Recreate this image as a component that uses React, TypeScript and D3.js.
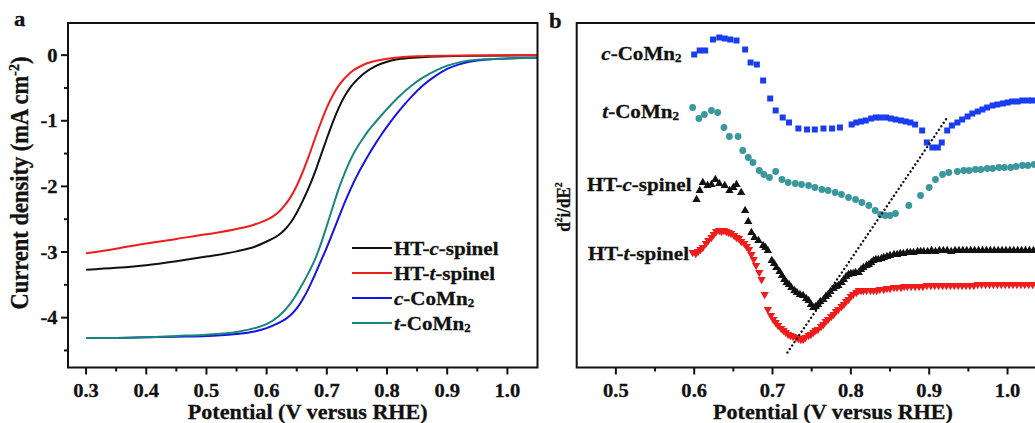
import React from 'react';
import * as d3 from 'd3';

const W = 1035;
const H = 423;
const FONT = "'Liberation Serif', 'Times New Roman', serif";
const SX = 1.08; // horizontal glyph stretch of the figure lettering

// ---- Panel a: LSV curves, potential (V vs RHE) vs current density (mA cm^-2)
const lsvHTc: [number, number][] = [
  [0.30, -3.27], [0.35, -3.24], [0.40, -3.20], [0.45, -3.14], [0.50, -3.07], [0.55, -2.99],
  [0.58, -2.92], [0.60, -2.84], [0.62, -2.74], [0.63, -2.66], [0.64, -2.55], [0.65, -2.40],
  [0.66, -2.22], [0.67, -2.02], [0.68, -1.79], [0.69, -1.53], [0.70, -1.27], [0.71, -1.02],
  [0.72, -0.80], [0.73, -0.62], [0.74, -0.48], [0.76, -0.29], [0.78, -0.17], [0.80, -0.10],
  [0.82, -0.06], [0.85, -0.035], [0.90, -0.015], [0.95, -0.008], [1.00, -0.004], [1.05, -0.002],
];
const lsvHTt: [number, number][] = [
  [0.30, -3.02], [0.35, -2.95], [0.40, -2.87], [0.45, -2.80], [0.50, -2.73], [0.55, -2.65],
  [0.58, -2.58], [0.60, -2.51], [0.61, -2.46], [0.62, -2.39], [0.63, -2.29], [0.64, -2.16],
  [0.65, -1.99], [0.66, -1.78], [0.67, -1.54], [0.68, -1.28], [0.69, -1.03], [0.70, -0.80],
  [0.71, -0.61], [0.72, -0.46], [0.74, -0.26], [0.76, -0.15], [0.78, -0.09], [0.80, -0.055],
  [0.82, -0.035], [0.85, -0.018], [0.90, -0.008], [0.95, -0.004], [1.00, -0.002], [1.05, 0],
];
const lsvCCoMn2: [number, number][] = [
  [0.30, -4.31], [0.35, -4.31], [0.40, -4.30], [0.45, -4.29], [0.50, -4.28], [0.55, -4.25],
  [0.58, -4.21], [0.60, -4.16], [0.62, -4.08], [0.63, -4.03], [0.64, -3.96], [0.65, -3.86],
  [0.66, -3.72], [0.67, -3.55], [0.68, -3.35], [0.69, -3.14], [0.70, -2.93], [0.71, -2.70],
  [0.72, -2.47], [0.73, -2.24], [0.74, -2.03], [0.75, -1.84], [0.76, -1.67], [0.77, -1.51],
  [0.78, -1.36], [0.79, -1.22], [0.80, -1.09], [0.82, -0.85], [0.84, -0.64], [0.86, -0.46],
  [0.88, -0.32], [0.90, -0.21], [0.92, -0.14], [0.95, -0.08], [1.00, -0.05], [1.05, -0.04],
];
const lsvTCoMn2: [number, number][] = [
  [0.30, -4.31], [0.35, -4.31], [0.40, -4.30], [0.45, -4.28], [0.50, -4.26], [0.55, -4.22],
  [0.58, -4.16], [0.60, -4.10], [0.62, -3.98], [0.64, -3.78], [0.65, -3.64], [0.66, -3.48],
  [0.67, -3.31], [0.68, -3.12], [0.69, -2.88], [0.70, -2.60], [0.71, -2.31], [0.72, -2.03],
  [0.73, -1.79], [0.74, -1.58], [0.75, -1.41], [0.76, -1.27], [0.77, -1.14], [0.78, -1.03],
  [0.80, -0.82], [0.82, -0.63], [0.84, -0.47], [0.86, -0.34], [0.88, -0.24], [0.90, -0.16],
  [0.92, -0.11], [0.95, -0.07], [1.00, -0.05], [1.05, -0.04],
];

const potentialTicksA = [0.3, 0.4, 0.5, 0.6, 0.7, 0.8, 0.9, 1.0];
const potentialMinorA = [0.35, 0.45, 0.55, 0.65, 0.75, 0.85, 0.95];
const currentTicks = [0, -1, -2, -3, -4];
const currentMinor = [-0.5, -1.5, -2.5, -3.5, -4.5];

// ---- Panel b: second derivative d2i/dE2 (arbitrary units) vs potential
const d2CCoMn2: [number, number][] = [
  [0.600, 313], [0.607, 317], [0.614, 317], [0.624, 328], [0.632, 330], [0.639, 329],
  [0.646, 328], [0.654, 327], [0.665, 318], [0.672, 305], [0.680, 303], [0.688, 287],
  [0.697, 269], [0.704, 257], [0.713, 250], [0.721, 245], [0.733, 239], [0.744, 238],
  [0.754, 238], [0.765, 239], [0.776, 239], [0.786, 240], [0.801, 243], [0.807, 245],
  [0.813, 246], [0.819, 247], [0.826, 249], [0.832, 250], [0.838, 250], [0.845, 250],
  [0.851, 249], [0.857, 248], [0.864, 247], [0.870, 246], [0.876, 245], [0.882, 243],
  [0.891, 237], [0.897, 225], [0.904, 220], [0.911, 220], [0.916, 225], [0.923, 237],
  [0.929, 242], [0.936, 245], [0.942, 248], [0.949, 251], [0.955, 254], [0.962, 256],
  [0.968, 258], [0.974, 260], [0.981, 262], [0.987, 263], [0.994, 264], [1.000, 265],
  [1.006, 266], [1.013, 266], [1.019, 267], [1.026, 267], [1.032, 267], [1.039, 267],
  [1.045, 267],
];
const d2TCoMn2: [number, number][] = [
  [0.598, 260], [0.606, 249], [0.613, 253], [0.622, 257], [0.630, 255], [0.638, 240],
  [0.645, 231], [0.656, 231], [0.662, 217], [0.669, 210], [0.675, 205], [0.683, 197],
  [0.689, 193], [0.696, 190], [0.704, 196], [0.712, 188], [0.720, 185], [0.729, 184],
  [0.737, 183], [0.746, 182], [0.754, 180], [0.763, 178], [0.771, 177], [0.780, 175],
  [0.788, 173], [0.797, 170], [0.806, 168], [0.814, 165], [0.823, 162], [0.831, 157],
  [0.838, 153], [0.844, 152], [0.850, 152], [0.857, 154], [0.874, 162], [0.889, 172],
  [0.900, 180], [0.908, 188], [0.917, 193], [0.925, 195], [0.936, 196], [0.944, 197],
  [0.951, 197], [0.959, 198], [0.966, 198], [0.974, 199], [0.981, 199], [0.989, 200],
  [0.996, 200], [1.004, 200], [1.011, 201], [1.019, 202], [1.026, 202], [1.034, 203],
  [1.041, 203],
];
const d2HTc: [number, number][] = [
  [0.603, 168], [0.607, 177], [0.611, 185], [0.617, 182], [0.622, 183], [0.627, 188],
  [0.632, 184], [0.639, 182], [0.645, 177], [0.650, 180], [0.654, 183], [0.660, 175],
  [0.665, 157], [0.669, 146], [0.673, 135], [0.677, 130], [0.682, 127], [0.688, 122],
  [0.691, 120], [0.694, 117], [0.699, 107], [0.702, 104], [0.705, 100], [0.709, 96],
  [0.712, 92], [0.715, 88], [0.718, 85], [0.721, 83], [0.724, 80], [0.728, 77],
  [0.731, 75], [0.735, 73], [0.739, 72], [0.743, 69], [0.746, 67], [0.749, 63],
  [0.752, 60], [0.755, 61], [0.758, 63], [0.761, 66], [0.765, 68], [0.768, 71],
  [0.771, 73], [0.774, 76], [0.778, 79], [0.781, 81], [0.784, 82], [0.788, 85],
  [0.791, 88], [0.794, 91], [0.797, 93], [0.800, 94], [0.803, 94], [0.806, 95],
  [0.810, 95], [0.813, 98], [0.816, 100], [0.820, 102], [0.823, 103], [0.826, 105],
  [0.829, 107], [0.832, 108], [0.835, 108], [0.839, 109], [0.842, 110], [0.846, 111],
  [0.850, 112], [0.855, 113], [0.859, 113], [0.863, 114], [0.867, 114], [0.872, 115],
  [0.876, 115], [0.880, 115], [0.885, 116], [0.889, 116], [0.893, 116], [0.898, 116],
  [0.903, 117], [0.908, 116], [0.913, 117], [0.918, 117], [0.923, 117], [0.928, 116],
  [0.933, 117], [0.938, 117], [0.943, 117], [0.948, 117], [0.953, 117], [0.958, 117],
  [0.963, 117], [0.968, 117], [0.973, 117], [0.978, 117], [0.983, 117], [0.988, 117],
  [0.993, 117], [0.998, 117], [1.003, 117], [1.008, 117], [1.013, 117], [1.018, 117],
  [1.023, 117], [1.028, 117], [1.033, 117], [1.038, 117], [1.043, 117], [1.048, 117],
];
const d2HTt: [number, number][] = [
  [0.598, 115], [0.602, 114], [0.605, 116], [0.608, 118], [0.611, 120], [0.615, 124],
  [0.618, 127], [0.622, 130], [0.625, 133], [0.628, 136], [0.632, 137], [0.635, 136],
  [0.638, 137], [0.641, 136], [0.644, 135], [0.647, 134], [0.651, 132], [0.654, 130],
  [0.657, 129], [0.660, 126], [0.664, 124], [0.667, 121], [0.670, 118], [0.673, 113],
  [0.676, 108], [0.679, 102], [0.683, 95], [0.686, 88], [0.690, 73], [0.694, 58],
  [0.698, 52], [0.701, 48], [0.704, 45], [0.707, 42], [0.711, 39], [0.714, 37],
  [0.717, 35], [0.720, 33], [0.723, 32], [0.726, 31], [0.730, 30], [0.733, 29],
  [0.736, 28], [0.739, 28], [0.742, 30], [0.746, 32], [0.749, 33], [0.752, 35],
  [0.755, 37], [0.758, 38], [0.762, 41], [0.765, 43], [0.768, 46], [0.771, 48],
  [0.775, 51], [0.778, 53], [0.781, 56], [0.784, 58], [0.788, 61], [0.791, 63],
  [0.794, 66], [0.797, 68], [0.800, 71], [0.803, 73], [0.807, 75], [0.810, 77],
  [0.813, 77], [0.816, 77], [0.820, 77], [0.825, 77], [0.829, 77], [0.833, 77],
  [0.837, 78], [0.842, 78], [0.846, 79], [0.850, 79], [0.855, 80], [0.859, 80],
  [0.864, 80], [0.868, 81], [0.872, 81], [0.877, 81], [0.882, 81], [0.887, 81],
  [0.892, 81], [0.897, 82], [0.902, 82], [0.907, 82], [0.912, 82], [0.917, 82],
  [0.922, 82], [0.927, 82], [0.932, 82], [0.937, 82], [0.942, 82], [0.947, 82],
  [0.952, 82], [0.957, 82], [0.962, 83], [0.967, 83], [0.972, 83], [0.977, 83],
  [0.982, 83], [0.987, 83], [0.992, 83], [0.997, 83], [1.002, 83], [1.007, 83],
  [1.012, 83], [1.017, 83], [1.022, 83], [1.027, 83], [1.032, 83], [1.037, 83],
  [1.042, 83], [1.047, 83],
];
// dotted guide through the minima
const minimaGuide: [number, number][] = [[0.719, 15], [0.923, 250]];

const potentialTicksB = [0.5, 0.6, 0.7, 0.8, 0.9, 1.0];
const potentialMinorB = [0.55, 0.65, 0.75, 0.85, 0.95];

// ---- layout
const A = { left: 68, right: 537.5, top: 23, bottom: 367.5 };
const B = { left: 576.7, right: 1046.7, top: 23, bottom: 367.5 };

const xA = d3.scaleLinear().domain([0.27, 1.05]).range([A.left, A.right]);
const yA = d3.scaleLinear().domain([-4.76, 0.49]).range([A.bottom, A.top]);
const xB = d3.scaleLinear().domain([0.45, 1.05]).range([B.left, B.right]);
const yB = d3.scaleLinear().domain([0, 344.5]).range([B.bottom, B.top]);

const C_BLACK = '#111111';
const C_RED = '#f01c1c';
const C_BLUE = '#1414e6';
const C_TEAL = '#17877c';
const C_SQ = '#1a3df2';
const C_CIRC = '#3a979e';

type Part = { t: string; i?: boolean; sub?: boolean };

const HTc: Part[] = [{ t: 'HT-' }, { t: 'c', i: true }, { t: '-spinel' }];
const HTt: Part[] = [{ t: 'HT-' }, { t: 't', i: true }, { t: '-spinel' }];
const cCo: Part[] = [{ t: 'c', i: true }, { t: '-CoMn' }, { t: '2', sub: true }];
const tCo: Part[] = [{ t: 't', i: true }, { t: '-CoMn' }, { t: '2', sub: true }];

function Txt(props: {
  x: number; y: number; size: number; anchor?: string; rotate?: number; children: React.ReactNode;
}) {
  const { x, y, size, anchor = 'start', rotate, children } = props;
  const tr = `translate(${x},${y}) scale(${SX},1)` + (rotate ? ` rotate(${rotate})` : '');
  return (
    <text
      transform={tr} textAnchor={anchor} fontSize={size} fontWeight="bold" fontFamily={FONT}
      fill="#111" stroke="#111" strokeWidth={0.3}
    >
      {children}
    </text>
  );
}

function Rich({ x, y, size, parts, anchor }: { x: number; y: number; size: number; parts: Part[]; anchor?: string }) {
  return (
    <Txt x={x} y={y} size={size} anchor={anchor}>
      {parts.map((p, k) => (
        <tspan key={k} fontStyle={p.i ? 'italic' : 'normal'} fontSize={p.sub ? size * 0.62 : size} dy={p.sub ? 2 : 0}>
          {p.t}
        </tspan>
      ))}
    </Txt>
  );
}

const lineA = d3
  .line<[number, number]>()
  .x((d) => xA(d[0]))
  .y((d) => yA(d[1]))
  .curve(d3.curveMonotoneX);

const triUp = d3.symbol(d3.symbolTriangle, 30)() as string;

export default function App() {
  const lsv = [
    { name: HTc, data: lsvHTc, color: C_BLACK },
    { name: HTt, data: lsvHTt, color: C_RED },
    { name: cCo, data: lsvCCoMn2, color: C_BLUE },
    { name: tCo, data: lsvTCoMn2, color: C_TEAL },
  ];
  const legendRows = [248, 273, 298, 323];

  return (
    <div style={{ position: 'absolute', left: 0, top: 0, width: W, height: H, background: '#fff' }}>
      <svg width={W} height={H} viewBox={`0 0 ${W} ${H}`} style={{ display: 'block' }}>
        <defs>
          <clipPath id="clipA">
            <rect x={A.left} y={A.top} width={A.right - A.left} height={A.bottom - A.top} />
          </clipPath>
          <clipPath id="clipB">
            <rect x={B.left} y={B.top} width={B.right - B.left} height={B.bottom - B.top} />
          </clipPath>
        </defs>
        <rect width={W} height={H} fill="#fff" />

        {/* ================= panel a ================= */}
        <Txt x={14} y={26} size={21}>a</Txt>
        <g clipPath="url(#clipA)">
          {lsv.map((s, k) => (
            <path key={k} d={lineA(s.data) as string} fill="none" stroke={s.color} strokeWidth={2} />
          ))}
        </g>
        <rect x={A.left} y={A.top} width={A.right - A.left} height={A.bottom - A.top} fill="none" stroke="#111" strokeWidth={2} />
        {potentialTicksA.map((v) => (
          <g key={v}>
            <line x1={xA(v)} x2={xA(v)} y1={A.bottom} y2={A.bottom + 7} stroke="#111" strokeWidth={2} />
            <Txt x={xA(v)} y={397} size={19} anchor="middle">{v.toFixed(1)}</Txt>
          </g>
        ))}
        {potentialMinorA.map((v) => (
          <line key={v} x1={xA(v)} x2={xA(v)} y1={A.bottom} y2={A.bottom + 4} stroke="#111" strokeWidth={2} />
        ))}
        {currentTicks.map((v) => (
          <g key={v}>
            <line x1={A.left - 7} x2={A.left} y1={yA(v)} y2={yA(v)} stroke="#111" strokeWidth={2} />
            <Txt x={57.5} y={yA(v) + 6.5} size={19} anchor="end">{v === 0 ? '0' : `-${Math.abs(v)}`}</Txt>
          </g>
        ))}
        {currentMinor.map((v) => (
          <line key={v} x1={A.left - 4} x2={A.left} y1={yA(v)} y2={yA(v)} stroke="#111" strokeWidth={2} />
        ))}
        <Txt x={(A.left + A.right) / 2 + 5} y={419} size={20.5} anchor="middle">Potential (V versus RHE)</Txt>
        <Txt x={28} y={183} size={22.5} anchor="middle" rotate={-90}>
          Current density (mA cm<tspan dy={-8} fontSize={14}>-2</tspan><tspan dy={8}>)</tspan>
        </Txt>

        {/* legend */}
        {lsv.map((s, k) => (
          <g key={k}>
            <line x1={352} x2={392} y1={legendRows[k]} y2={legendRows[k]} stroke={s.color} strokeWidth={2} />
            <Rich x={394} y={legendRows[k] + 6.5} size={19.5} parts={s.name} />
          </g>
        ))}

        {/* ================= panel b ================= */}
        <Txt x={549} y={28} size={21}>b</Txt>
        <g clipPath="url(#clipB)">
          {d2HTt.map((d, k) => (
            <path key={'r' + k} d={triUp} transform={`translate(${xB(d[0])},${yB(d[1])}) rotate(180)`} fill={C_RED} />
          ))}
          {d2HTc.map((d, k) => (
            <path key={'k' + k} d={triUp} transform={`translate(${xB(d[0])},${yB(d[1])})`} fill={C_BLACK} />
          ))}
          {d2TCoMn2.map((d, k) => (
            <circle key={'t' + k} cx={xB(d[0])} cy={yB(d[1])} r={3.4} fill={C_CIRC} />
          ))}
          {d2CCoMn2.map((d, k) => (
            <rect key={'c' + k} x={xB(d[0]) - 3} y={yB(d[1]) - 3} width={6} height={6} fill={C_SQ} />
          ))}
          <line
            x1={xB(minimaGuide[0][0])} y1={yB(minimaGuide[0][1])}
            x2={xB(minimaGuide[1][0])} y2={yB(minimaGuide[1][1])}
            stroke="#111" strokeWidth={2.4} strokeDasharray="0.01 4.2" strokeLinecap="round"
          />
        </g>
        <path
          d={`M${W + 20},${B.top} H${B.left} V${B.bottom} H${W + 20}`}
          fill="none" stroke="#111" strokeWidth={2}
        />
        {potentialTicksB.map((v) => (
          <g key={v}>
            <line x1={xB(v)} x2={xB(v)} y1={B.bottom} y2={B.bottom + 7} stroke="#111" strokeWidth={2} />
            <Txt x={xB(v)} y={397} size={19} anchor="middle">{v.toFixed(1)}</Txt>
          </g>
        ))}
        {potentialMinorB.map((v) => (
          <line key={v} x1={xB(v)} x2={xB(v)} y1={B.bottom} y2={B.bottom + 4} stroke="#111" strokeWidth={2} />
        ))}
        <Txt x={833} y={419} size={20.5} anchor="middle">Potential (V versus RHE)</Txt>
        <Txt x={570} y={207} size={17} anchor="middle" rotate={-90}>
          d<tspan dy={-7} fontSize={10}>2</tspan><tspan dy={7}>i/dE</tspan><tspan dy={-7} fontSize={10}>2</tspan>
        </Txt>

        <Rich x={681.5} y={60} size={19.5} parts={cCo} anchor="end" />
        <Rich x={679} y={118} size={19.5} parts={tCo} anchor="end" />
        <Rich x={691.5} y={191} size={19.5} parts={HTc} anchor="end" />
        <Rich x={689} y={260} size={19.5} parts={HTt} anchor="end" />
      </svg>
    </div>
  );
}
